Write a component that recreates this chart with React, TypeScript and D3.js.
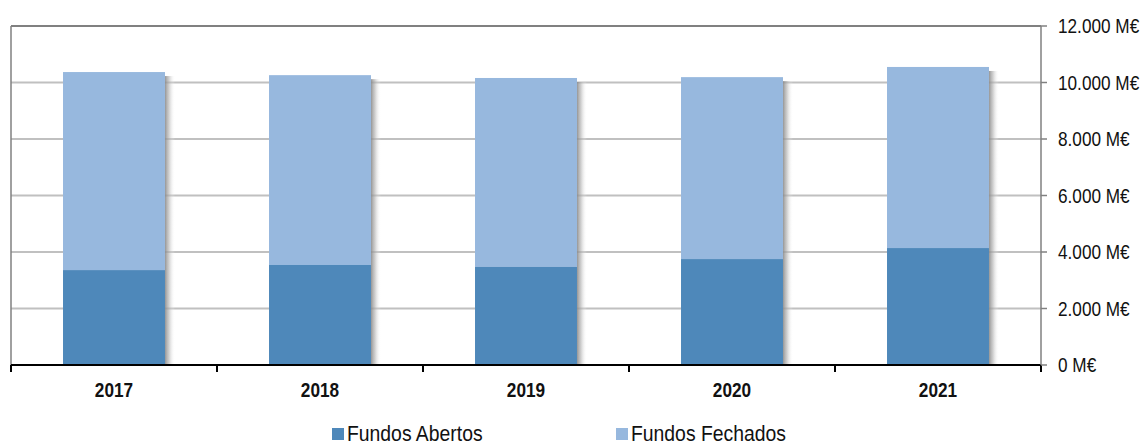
import * as d3 from "d3";
import { useEffect, useRef } from "react";

const years = ["2017", "2018", "2019", "2020", "2021"];
const abertos = [3360, 3540, 3470, 3750, 4140];
const fechados = [7010, 6720, 6690, 6440, 6410];
const yTicks = [0, 2000, 4000, 6000, 8000, 10000, 12000];
const seriesNames = ["Fundos Abertos", "Fundos Fechados"];

const colors = ["#4e88ba", "#97b8de"];
const font = "'Liberation Sans', Arial, sans-serif";

export default function App() {
  const svgRef = useRef<SVGSVGElement>(null);

  const width = 1146;
  const height = 446;
  const margin = { top: 26, right: 105, left: 11, bottom: 81 };

  useEffect(() => {
    const svg = d3.select(svgRef.current);
    svg.selectAll("*").remove();

    const innerW = width - margin.left - margin.right;
    const innerH = height - margin.top - margin.bottom;

    const defs = svg.append("defs");
    const grad = defs.append("linearGradient").attr("id", "shadow").attr("x1", "0").attr("x2", "1").attr("y1", "0").attr("y2", "0");
    grad.append("stop").attr("offset", "0%").attr("stop-color", "#8a8a8a").attr("stop-opacity", 0.9);
    grad.append("stop").attr("offset", "40%").attr("stop-color", "#b0b0b0").attr("stop-opacity", 0.6);
    grad.append("stop").attr("offset", "100%").attr("stop-color", "#ffffff").attr("stop-opacity", 0);

    const g = svg.append("g").attr("transform", `translate(${margin.left},${margin.top})`);

    const x = d3.scaleBand().domain(years).range([0, innerW]).paddingInner(0).paddingOuter(0);
    const y = d3.scaleLinear().domain([0, 12000]).range([innerH, 0]);

    // gridlines
    g.selectAll(".grid")
      .data(yTicks.filter(t => t > 0 && t < 12000))
      .enter().append("line")
      .attr("x1", 0).attr("x2", innerW)
      .attr("y1", d => y(d)).attr("y2", d => y(d))
      .attr("stroke", "#c0c0c0").attr("stroke-width", 2);

    // plot frame top and left
    g.append("line").attr("x1", 0).attr("x2", innerW).attr("y1", 0).attr("y2", 0)
      .attr("stroke", "#808080").attr("stroke-width", 2);
    g.append("line").attr("x1", 0).attr("x2", 0).attr("y1", 0).attr("y2", innerH)
      .attr("stroke", "#808080").attr("stroke-width", 1.5);

    const stacked = years.map((yr, i) => ({ yr, a: abertos[i], f: fechados[i] }));
    const barW = x.bandwidth() * 0.495;

    const bars = g.selectAll(".bar").data(stacked).enter().append("g")
      .attr("transform", d => `translate(${x(d.yr)! + (x.bandwidth() - barW) / 2},0)`);

    // shadow
    bars.append("rect")
      .attr("x", barW)
      .attr("y", d => y(d.a + d.f) + 4)
      .attr("width", 10)
      .attr("height", d => innerH - y(d.a + d.f) - 4)
      .attr("fill", "url(#shadow)");

    bars.append("rect")
      .attr("x", 0).attr("width", barW)
      .attr("y", d => y(d.a + d.f))
      .attr("height", d => y(d.a) - y(d.a + d.f))
      .attr("fill", colors[1]);

    bars.append("rect")
      .attr("x", 0).attr("width", barW)
      .attr("y", d => y(d.a))
      .attr("height", d => innerH - y(d.a))
      .attr("fill", colors[0]);

    // x axis
    const xAxis = g.append("g").attr("transform", `translate(0,${innerH})`);
    xAxis.append("line").attr("x1", 0).attr("x2", innerW).attr("y1", 0).attr("y2", 0)
      .attr("stroke", "#000").attr("stroke-width", 2);
    xAxis.selectAll(".xtick")
      .data(years.map(d => x(d)!).concat([innerW]))
      .enter().append("line")
      .attr("x1", d => d).attr("x2", d => d).attr("y1", 0).attr("y2", 7)
      .attr("stroke", "#000").attr("stroke-width", 2);
    xAxis.selectAll(".xlabel").data(years).enter().append("text")
      .attr("transform", d => `translate(${x(d)! + x.bandwidth() / 2},32) scale(0.82,1)`)
      .attr("text-anchor", "middle")
      .attr("font-family", font)
      .attr("font-weight", "bold")
      .attr("font-size", 21)
      .attr("fill", "#111")
      .text(d => d);

    // right axis
    const yAxis = g.append("g").attr("transform", `translate(${innerW},0)`);
    yAxis.append("line").attr("x1", 0).attr("x2", 0).attr("y1", 0).attr("y2", innerH)
      .attr("stroke", "#808080").attr("stroke-width", 1.5);
    yAxis.selectAll(".ytick").data(yTicks).enter().append("line")
      .attr("x1", 0).attr("x2", 6)
      .attr("y1", d => y(d)).attr("y2", d => y(d))
      .attr("stroke", "#808080").attr("stroke-width", 1.5);
    const fmt = (v: number) => d3.format(",")(v).replace(/,/g, ".") + " M€";
    yAxis.selectAll(".ylabel").data(yTicks).enter().append("text")
      .attr("transform", d => `translate(17,${y(d)}) scale(0.86,1)`)
      .attr("dy", "0.35em")
      .attr("font-family", font)
      .attr("font-size", 20)
      .attr("fill", "#111")
      .text(d => fmt(d));

    // legend
    const legendX = [332, 616];
    const legend = svg.selectAll(".legend").data(seriesNames).enter().append("g")
      .attr("transform", (d, i) => `translate(${legendX[i]},433)`);
    legend.append("rect").attr("x", 0).attr("y", -5).attr("width", 12).attr("height", 12)
      .attr("fill", (d, i) => colors[i]);
    legend.append("text")
      .attr("transform", "translate(15,0) scale(0.88,1)")
      .attr("dy", "0.35em")
      .attr("font-family", font)
      .attr("font-size", 22)
      .attr("fill", "#111")
      .text(d => d);
  }, []);

  return (
    <svg ref={svgRef} width={width} height={height}
      style={{ position: "absolute", left: 0, top: 0, background: "#fff" }} />
  );
}
